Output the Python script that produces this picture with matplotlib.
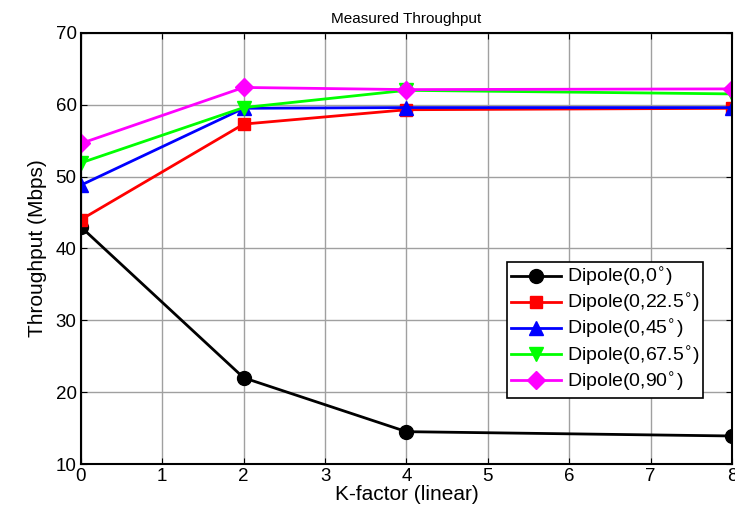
import matplotlib
matplotlib.use('Agg')
import matplotlib.pyplot as plt

plt.rcParams['font.family'] = ['Liberation Sans', 'DejaVu Sans']

k_factor = [0, 2, 4, 8]
labels = ['Dipole(0,0$^{\\circ}$)', 'Dipole(0,22.5$^{\\circ}$)', 'Dipole(0,45$^{\\circ}$)',
          'Dipole(0,67.5$^{\\circ}$)', 'Dipole(0,90$^{\\circ}$)']
tp_0 = [43.0, 22.0, 14.5, 13.9]
tp_22 = [44.0, 57.3, 59.3, 59.5]
tp_45 = [48.8, 59.5, 59.6, 59.6]
tp_67 = [51.9, 59.6, 62.0, 61.5]
tp_90 = [54.6, 62.4, 62.1, 62.2]

colors = ['black', 'red', 'blue', '#00ff00', 'magenta']
markers = ['o', 's', '^', 'v', 'D']
sizes = [10, 9, 10, 10, 9]

fig = plt.figure(figsize=(7.35, 5.17), dpi=100)
ax = fig.add_axes([0.110, 0.1025, 0.886, 0.834])

for ys, lab, c, m, s in zip([tp_0, tp_22, tp_45, tp_67, tp_90], labels, colors, markers, sizes):
    ax.plot(k_factor, ys, color=c, marker=m, markersize=s, linewidth=2, label=lab)

ax.set_xlim(0, 8)
ax.set_ylim(10, 70)
ax.set_xticks(range(0, 9))
ax.set_yticks(range(10, 71, 10))
ax.grid(True, color='#a0a0a0', linewidth=1)
ax.tick_params(direction='in', labelsize=13.5, top=True, right=True, length=4, pad=3)
for sp in ax.spines.values():
    sp.set_linewidth(1.5)

ax.set_xlabel('K-factor (linear)', fontsize=15, labelpad=0)
ax.set_ylabel('Throughput (Mbps)', fontsize=15, labelpad=6)
ax.set_title('Measured Throughput', fontsize=11, pad=7)

leg = ax.legend(loc='upper left', bbox_to_anchor=(0.654, 0.468), fontsize=14,
                fancybox=False, framealpha=1, edgecolor='black', handlelength=2.6,
                borderpad=0.2, labelspacing=0.15, handletextpad=0.3, borderaxespad=0)
leg.get_frame().set_linewidth(1.2)

fig.savefig('out.png', dpi=100)
